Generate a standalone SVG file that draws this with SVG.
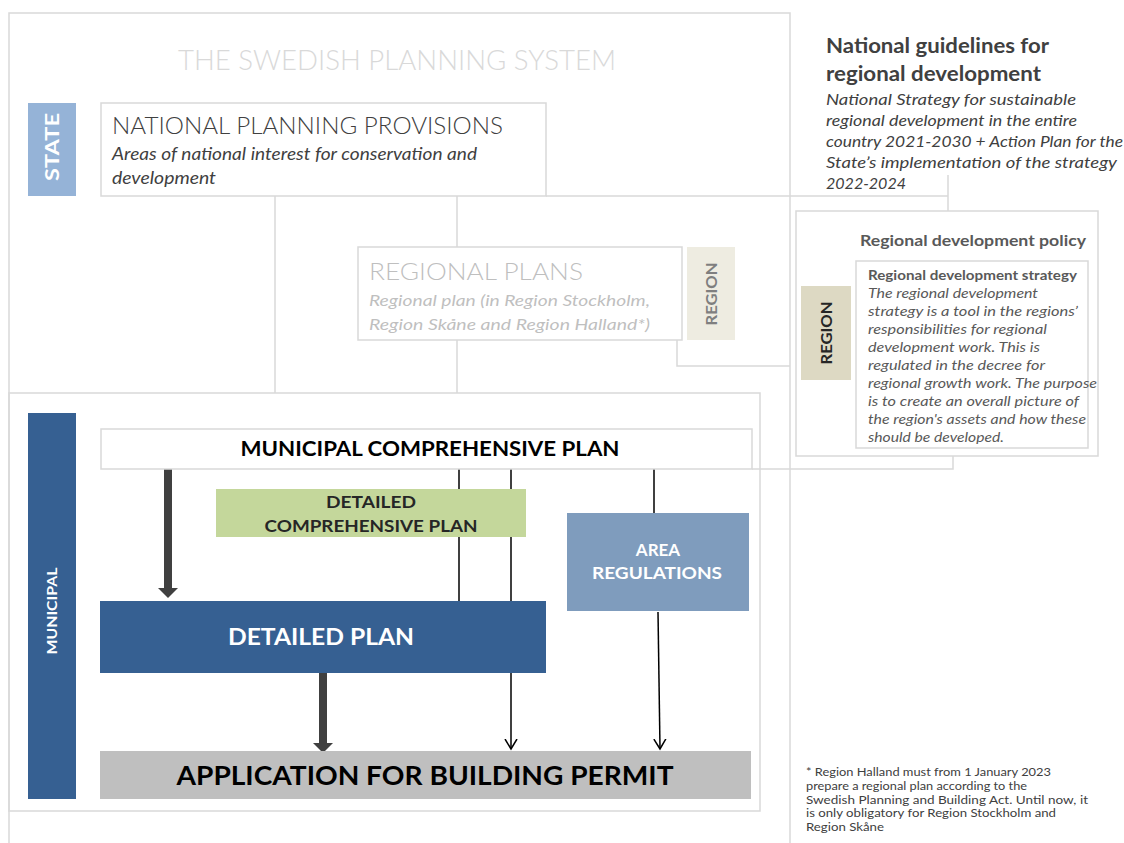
<svg xmlns="http://www.w3.org/2000/svg" width="1124" height="843" viewBox="0 0 1124 843">
  <style>
    text { font-family: Lato, "Open Sans", "Liberation Sans", sans-serif; }
    .frame { fill: none; stroke: #d9d9d9; stroke-width: 1.5; }
    .box { fill: #ffffff; stroke: #d9d9d9; stroke-width: 1.5; }
    .link { fill: none; stroke: #d9d9d9; stroke-width: 1.5; }
    .thick { fill: none; stroke: #404040; stroke-width: 8; }
    .thin { fill: none; stroke: #000000; stroke-width: 1.5; }
    .it { font-style: italic; }
    .b { font-weight: bold; }
    .light { font-weight: 300; }
    .vlabel { font-weight: bold; text-anchor: middle; }
  </style>
  <defs>
    <marker id="headThick" markerUnits="userSpaceOnUse" markerWidth="10" markerHeight="20" refX="0" refY="10" orient="auto">
      <path d="M0,0 L10,10 L0,20 z" fill="#404040"/>
    </marker>
    <marker id="headOpen" markerUnits="userSpaceOnUse" markerWidth="12" markerHeight="14" refX="10" refY="7" orient="auto">
      <path d="M0,1 L10,7 L0,13" fill="none" stroke="#000000" stroke-width="1.5"/>
    </marker>
  </defs>

  <rect width="1124" height="843" fill="#ffffff"/>

  <!-- outer frames -->
  <g id="frames">
    <path class="frame" d="M9,850 V13 H790 V850"/>
    <rect class="frame" x="9" y="393" width="751" height="418"/>
  </g>

  <!-- light grey relation lines -->
  <g id="relations">
    <line class="link" x1="275" y1="196" x2="275" y2="393"/>
    <line class="link" x1="457" y1="196" x2="457" y2="247"/>
    <line class="link" x1="457" y1="340" x2="457" y2="393"/>
    <line class="link" x1="546" y1="196" x2="948" y2="196"/>
    <line class="link" x1="948" y1="175" x2="948" y2="211"/>
    <path class="link" d="M677,340 V366 H790"/>
    <path class="link" d="M752,469 H953 V456"/>
  </g>

  <text class="light" x="397" y="70" font-size="28" fill="#d9d9d9" text-anchor="middle" textLength="438" lengthAdjust="spacingAndGlyphs">THE SWEDISH PLANNING SYSTEM</text>

  <g id="state-label">
    <rect x="28" y="103" width="48" height="93" fill="#95b3d7"/>
    <text class="vlabel" transform="translate(58.5,147) rotate(-90)" font-size="18" fill="#ffffff" textLength="68" lengthAdjust="spacingAndGlyphs">STATE</text>
  </g>

  <g id="national-planning">
    <rect class="box" x="101" y="103" width="445" height="93"/>
    <text class="light" x="112" y="134" font-size="24" fill="#404040" textLength="391" lengthAdjust="spacingAndGlyphs">NATIONAL PLANNING PROVISIONS</text>
    <text class="it" x="112" y="160" font-size="17" fill="#404040" textLength="365" lengthAdjust="spacingAndGlyphs">Areas of national interest for conservation and</text>
    <text class="it" x="112" y="184" font-size="17" fill="#404040" textLength="104" lengthAdjust="spacingAndGlyphs">development</text>
  </g>

  <g id="regional-plans">
    <rect class="box" x="358" y="247" width="324" height="93"/>
    <text class="light" x="369" y="280" font-size="24" fill="#bfbfbf" textLength="214" lengthAdjust="spacingAndGlyphs">REGIONAL PLANS</text>
    <text class="it" x="369" y="306" font-size="16" fill="#bfbfbf" textLength="281" lengthAdjust="spacingAndGlyphs">Regional plan (in Region Stockholm,</text>
    <text class="it" x="369" y="330" font-size="16" fill="#bfbfbf" textLength="281" lengthAdjust="spacingAndGlyphs">Region Skåne and Region Halland*)</text>
  </g>

  <g id="region-label-small">
    <rect x="687" y="247" width="48" height="93" fill="#eeece1"/>
    <text class="vlabel" transform="translate(716.5,294) rotate(-90)" font-size="15" fill="#7f7f7f" textLength="63" lengthAdjust="spacingAndGlyphs">REGION</text>
  </g>

  <g id="national-guidelines">
    <text class="b" x="826" y="53" font-size="20" fill="#404040" textLength="223" lengthAdjust="spacingAndGlyphs">National guidelines for</text>
    <text class="b" x="826" y="81" font-size="20" fill="#404040" textLength="215" lengthAdjust="spacingAndGlyphs">regional development</text>
    <text class="it" x="826" y="105" font-size="15.5" fill="#404040" textLength="250" lengthAdjust="spacingAndGlyphs">National Strategy for sustainable</text>
    <text class="it" x="826" y="126" font-size="15.5" fill="#404040" textLength="251" lengthAdjust="spacingAndGlyphs">regional development in the entire</text>
    <text class="it" x="826" y="147" font-size="15.5" fill="#404040" textLength="297" lengthAdjust="spacingAndGlyphs">country 2021-2030 + Action Plan for the</text>
    <text class="it" x="826" y="168" font-size="15.5" fill="#404040" textLength="291" lengthAdjust="spacingAndGlyphs">State’s implementation of the strategy</text>
    <text class="it" x="826" y="189" font-size="15.5" fill="#404040" textLength="80" lengthAdjust="spacingAndGlyphs">2022-2024</text>
  </g>

  <g id="regional-development-policy">
    <rect class="box" x="796" y="211" width="302" height="245"/>
    <text class="b" x="860" y="246" font-size="15" fill="#595959" textLength="226" lengthAdjust="spacingAndGlyphs">Regional development policy</text>
  </g>

  <g id="region-label-large">
    <rect x="801" y="286" width="50" height="94" fill="#ddd9c3"/>
    <text class="vlabel" transform="translate(831.5,333) rotate(-90)" font-size="15" fill="#262626" textLength="63" lengthAdjust="spacingAndGlyphs">REGION</text>
  </g>

  <g id="regional-development-strategy">
    <rect class="box" x="856" y="261" width="232" height="187"/>
    <text class="b" x="868" y="280" font-size="14" fill="#595959" textLength="209" lengthAdjust="spacingAndGlyphs">Regional development strategy</text>
    <g class="it" font-size="14" fill="#595959">
      <text x="868" y="298" textLength="170" lengthAdjust="spacingAndGlyphs">The regional development</text>
      <text x="868" y="316" textLength="210" lengthAdjust="spacingAndGlyphs">strategy is a tool in the regions’</text>
      <text x="868" y="334" textLength="179" lengthAdjust="spacingAndGlyphs">responsibilities for regional</text>
      <text x="868" y="352" textLength="172" lengthAdjust="spacingAndGlyphs">development work. This is</text>
      <text x="868" y="370" textLength="177" lengthAdjust="spacingAndGlyphs">regulated in the decree for</text>
      <text x="868" y="388" textLength="229" lengthAdjust="spacingAndGlyphs">regional growth work. The purpose</text>
      <text x="868" y="406" textLength="211" lengthAdjust="spacingAndGlyphs">is to create an overall picture of</text>
      <text x="868" y="424" textLength="218" lengthAdjust="spacingAndGlyphs">the region's assets and how these</text>
      <text x="868" y="442" textLength="136" lengthAdjust="spacingAndGlyphs">should be developed.</text>
    </g>
  </g>

  <g id="municipal-label">
    <rect x="28" y="413" width="48" height="386" fill="#366092"/>
    <text class="vlabel" transform="translate(56.7,611) rotate(-90)" font-size="13" fill="#ffffff" textLength="87" lengthAdjust="spacingAndGlyphs">MUNICIPAL</text>
  </g>

  <!-- flow connectors inside the municipal level -->
  <g id="connectors">
    <line class="thin" x1="459" y1="469" x2="459" y2="601"/>
    <line class="thin" x1="511" y1="469" x2="511" y2="749" marker-end="url(#headOpen)"/>
    <line class="thin" x1="654" y1="469" x2="654" y2="513"/>
    <line class="thin" x1="658" y1="612" x2="660" y2="749" marker-end="url(#headOpen)"/>
    <line class="thick" x1="168" y1="468" x2="168" y2="588" marker-end="url(#headThick)"/>
    <line class="thick" x1="323" y1="673" x2="323" y2="743" marker-end="url(#headThick)"/>
  </g>

  <g id="municipal-comprehensive-plan">
    <rect class="box" x="101" y="429" width="651" height="40"/>
    <text class="b" x="430" y="456" font-size="20" fill="#000000" text-anchor="middle" textLength="379" lengthAdjust="spacingAndGlyphs">MUNICIPAL COMPREHENSIVE PLAN</text>
  </g>

  <g id="detailed-comprehensive-plan">
    <rect x="216" y="489" width="310" height="48" fill="#c4d79b"/>
    <text class="b" x="371" y="508" font-size="17" fill="#262626" text-anchor="middle" textLength="90" lengthAdjust="spacingAndGlyphs">DETAILED</text>
    <text class="b" x="371" y="532" font-size="17" fill="#262626" text-anchor="middle" textLength="213" lengthAdjust="spacingAndGlyphs">COMPREHENSIVE PLAN</text>
  </g>

  <g id="area-regulations">
    <rect x="567" y="513" width="182" height="98" fill="#7f9cbd"/>
    <text class="b" x="658" y="556" font-size="17" fill="#ffffff" text-anchor="middle">AREA</text>
    <text class="b" x="657" y="579" font-size="17" fill="#ffffff" text-anchor="middle" textLength="130" lengthAdjust="spacingAndGlyphs">REGULATIONS</text>
  </g>

  <g id="detailed-plan">
    <rect x="100" y="601" width="446" height="72" fill="#366092"/>
    <text class="b" x="321" y="645" font-size="22" fill="#ffffff" text-anchor="middle" textLength="186" lengthAdjust="spacingAndGlyphs">DETAILED PLAN</text>
  </g>

  <g id="building-permit">
    <rect x="100" y="751" width="651" height="48" fill="#bfbfbf"/>
    <text class="b" x="425" y="785" font-size="26" fill="#000000" text-anchor="middle" textLength="497" lengthAdjust="spacingAndGlyphs">APPLICATION FOR BUILDING PERMIT</text>
  </g>

  <g id="footnote" font-size="11.5" fill="#404040">
    <text x="806" y="776" textLength="245" lengthAdjust="spacingAndGlyphs">* Region Halland must from 1 January 2023</text>
    <text x="806" y="790" textLength="221" lengthAdjust="spacingAndGlyphs">prepare a regional plan according to the</text>
    <text x="806" y="803.5" textLength="282" lengthAdjust="spacingAndGlyphs">Swedish Planning and Building Act. Until now, it</text>
    <text x="806" y="817" textLength="250" lengthAdjust="spacingAndGlyphs">is only obligatory for Region Stockholm and</text>
    <text x="806" y="830.5" textLength="78" lengthAdjust="spacingAndGlyphs">Region Skåne</text>
  </g>
</svg>
